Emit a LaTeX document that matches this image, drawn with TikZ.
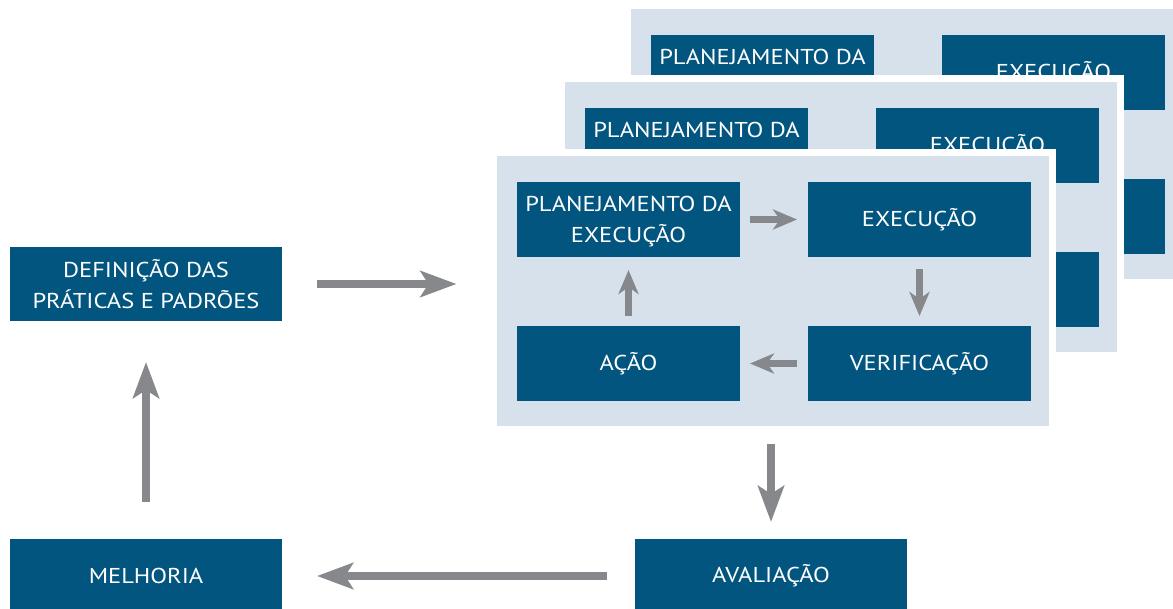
\documentclass[tikz,border=0pt]{standalone}
\usepackage{fontspec}
\setmainfont{PT Sans}[FakeStretch=1.14]
\usetikzlibrary{arrows.meta}
\definecolor{boxblue}{RGB}{2,85,127}
\definecolor{panelblue}{RGB}{214,225,236}
\definecolor{arrowgray}{RGB}{135,136,140}
\newcommand{\drawpanel}[3]{%
  \node[panel, anchor=north west] (#1) at (#2-3.5,#3-3.5) {};
  \node[box] (#1plan) at (#2+131.5,#3+63.5) {\rule{0pt}{20pt}PLANEJAMENTO DA\\EXECUÇÃO};
  \node[box] (#1exec) at (#2+422.5,#3+63.5) {EXECUÇÃO};
  \node[box] (#1acao) at (#2+131.5,#3+207.5) {AÇÃO};
  \node[box] (#1verif) at (#2+422.5,#3+207.5) {VERIFICAÇÃO};
}
\begin{document}
\begin{tikzpicture}[x=1pt,y=-1pt,
  box/.style={fill=boxblue, text=white, minimum width=223pt, minimum height=75pt,
    inner sep=0pt, outer sep=0pt, align=center, font=\fontsize{21.5}{31}\selectfont},
  bigbox/.style={box, minimum width=272pt, minimum height=74pt},
  panel/.style={fill=panelblue, draw=white, line width=7pt, minimum width=559pt,
    minimum height=277pt, inner sep=0pt, outer sep=0pt},
  bigarrow/.style={draw=arrowgray, line width=8pt, -{Stealth[length=36pt,width=26pt,inset=8pt]}},
  smallarrow/.style={draw=arrowgray, line width=6.5pt, -{Stealth[length=24pt,width=20pt,inset=7pt]}},
]
\useasboundingbox (0,0) rectangle (1173,609);
\clip (0,0) rectangle (1173,609);

\drawpanel{back}{631}{9}
\drawpanel{mid}{565}{82}
\drawpanel{front}{497}{156}

\draw[smallarrow] ([xshift=10pt]frontplan.east) -- ([xshift=-11pt]frontexec.west);
\draw[smallarrow] ([yshift=-12pt]frontexec.south) -- ([yshift=10pt]frontverif.north);
\draw[smallarrow] ([xshift=-11pt]frontverif.west) -- ([xshift=10pt]frontacao.east);
\draw[smallarrow] ([yshift=10pt]frontacao.north) -- ([yshift=-13pt]frontplan.south);

\node[bigbox] (def) at (146,284) {DEFINIÇÃO DAS\\PRÁTICAS E PADRÕES};
\node[bigbox] (mel) at (146,576) {MELHORIA};
\node[bigbox] (aval) at (771,576) {AVALIAÇÃO};

\draw[bigarrow] ([xshift=35pt]def.east) -- ([xshift=-37pt]front.west |- def.east);
\draw[bigarrow] ([yshift=-14.5pt]aval.north |- front.south) -- ([yshift=17pt]aval.north);
\draw[bigarrow] ([xshift=-28pt]aval.west) -- ([xshift=35pt]mel.east);
\draw[bigarrow] ([yshift=37pt]mel.north) -- ([yshift=-41pt]def.south);
\end{tikzpicture}
\end{document}
